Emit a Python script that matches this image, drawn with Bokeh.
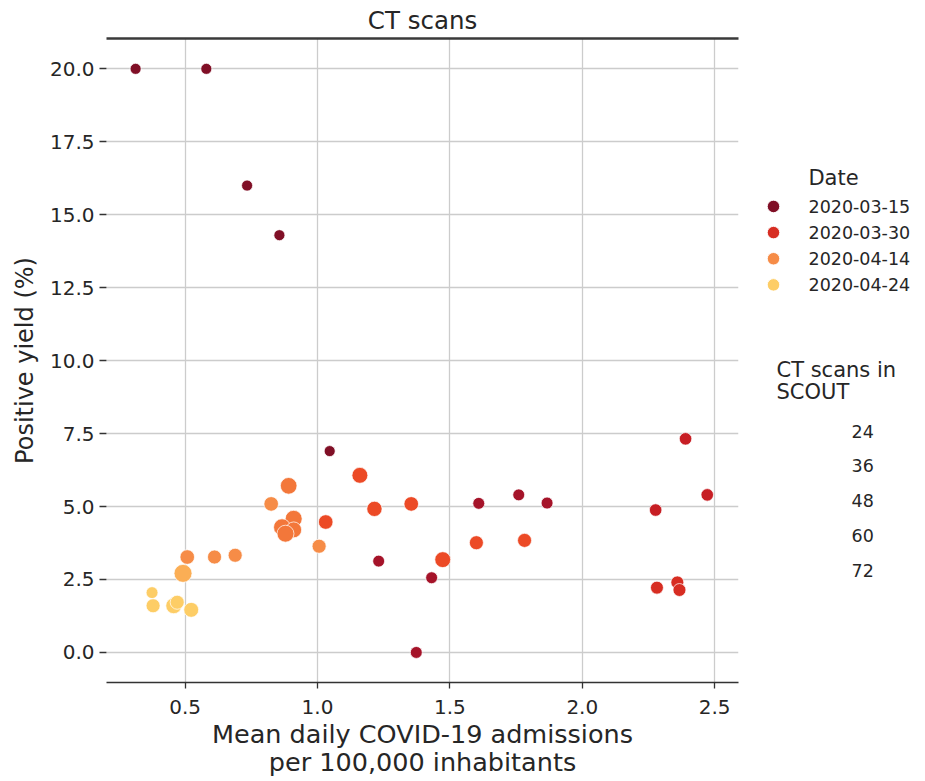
import math
from bokeh.plotting import figure
from bokeh.models import (ColumnDataSource, FixedTicker, NumeralTickFormatter, LinearAxis, Range1d)
from bokeh.transform import factor_cmap
from bokeh.core.properties import value
from bokeh.layouts import row
from bokeh.embed import file_html
from bokeh.resources import INLINE

# ---------------- data ----------------
dates = (["2020-03-15"] * 5 + ["2020-03-20"] * 6 + ["2020-03-25"] * 3 + ["2020-03-30"] * 3 +
         ["2020-04-04"] * 7 + ["2020-04-09"] * 5 + ["2020-04-14"] * 5 + ["2020-04-19"] * 1 +
         ["2020-04-24"] * 5)
admissions = [0.313, 0.580, 0.734, 0.856, 1.046,
              1.231, 1.373, 1.431, 1.609, 1.760, 1.867,
              2.277, 2.390, 2.472,
              2.282, 2.359, 2.367,
              1.160, 1.215, 1.354, 1.031, 1.473, 1.600, 1.782,
              0.891, 0.910, 0.866, 0.910, 0.879,
              0.825, 1.006, 0.611, 0.689, 0.508,
              0.492,
              0.375, 0.379, 0.457, 0.470, 0.523]
yield_pct = [20.0, 20.0, 16.0, 14.3, 6.90,
             3.13, 0.0, 2.56, 5.11, 5.40, 5.12,
             4.88, 7.32, 5.40,
             2.22, 2.40, 2.14,
             6.07, 4.92, 5.09, 4.47, 3.18, 3.76, 3.84,
             5.71, 4.58, 4.29, 4.20, 4.07,
             5.09, 3.64, 3.27, 3.33, 3.27,
             2.71,
             2.05, 1.60, 1.60, 1.72, 1.46]
scans = [24, 24, 24, 24, 24,
         28, 28, 28, 28, 28, 28,
         31, 31, 31,
         33, 33, 33,
         50, 46, 42, 42, 50, 39, 39,
         55, 57, 57, 50, 57,
         42, 39, 39, 39, 42,
         64,
         28, 39, 50, 39, 44]

date_levels = ["2020-03-15", "2020-03-20", "2020-03-25", "2020-03-30", "2020-04-04",
               "2020-04-09", "2020-04-14", "2020-04-19", "2020-04-24"]
date_colors = ["#800f26", "#a51329", "#c71e24", "#d72d22", "#ec4a26",
               "#f3773a", "#f68c47", "#fbae55", "#fdcd66"]
legend_dates = ["2020-03-15", "2020-03-30", "2020-04-14", "2020-04-24"]
size_levels = [24, 36, 48, 60, 72]
x_ticks = [0.5, 1.0, 1.5, 2.0, 2.5]
y_ticks = [0.0, 2.5, 5.0, 7.5, 10.0, 12.5, 15.0, 17.5, 20.0]

FONT = "DejaVu Sans"
TXT = "#262626"

marker_size = [2.25 * math.sqrt(s) for s in scans]
src = ColumnDataSource(dict(x=admissions, y=yield_pct, date=dates, scans=scans, size=marker_size))

WP, H = 740, 780
FRAME_TOP, FRAME_BOTTOM = 38, 686
p = figure(width=WP, height=H, output_backend="svg", toolbar_location=None,
           x_range=Range1d(0.203, 2.59), y_range=Range1d(-1.03, 21.04),
           min_border_left=106, min_border_right=2, min_border_top=FRAME_TOP,
           min_border_bottom=H - FRAME_BOTTOM)
p.outline_line_color = None
p.background_fill_color = "white"

p.title.text = "CT scans"
p.title.align = "center"
p.title.text_font = FONT
p.title.text_font_size = "24.5px"
p.title.text_font_style = "normal"
p.title.text_color = TXT
p.title.standoff = 7
p.title.offset = 0

xax = p.below[0]
yax = p.left[0]
for ax in (xax, yax):
    ax.major_label_text_font = FONT
    ax.major_label_text_font_size = "20px"
    ax.major_label_text_color = TXT
    ax.axis_label_text_font = FONT
    ax.axis_label_text_font_style = "normal"
    ax.axis_label_text_color = TXT
    ax.minor_tick_line_color = None
    ax.major_tick_line_color = "#333333"
    ax.major_tick_line_width = 1.3
    ax.major_tick_in = 0
    ax.major_tick_out = 6
    ax.formatter = NumeralTickFormatter(format="0.0")

xax.ticker = FixedTicker(ticks=x_ticks)
yax.ticker = FixedTicker(ticks=y_ticks)
xax.axis_line_color = "#333333"
xax.axis_line_width = 1.6
yax.axis_line_color = None
yax.major_tick_out = 7
xax.axis_label = "Mean daily COVID-19 admissions\nper 100,000 inhabitants"
yax.axis_label = "Positive yield (%)"
xax.axis_label_text_font_size = "25.5px"
xax.axis_label_text_line_height = 0.95
yax.axis_label_text_font_size = "24px"
xax.major_label_standoff = 11
yax.major_label_standoff = 5
xax.axis_label_standoff = 2
yax.axis_label_standoff = 8

# top spine
top = LinearAxis(ticker=FixedTicker(ticks=[]), axis_line_width=2.4, axis_line_color="#3a3a3a",
                 major_tick_line_color=None, minor_tick_line_color=None,
                 major_label_text_font_size="0px")
p.add_layout(top, "above")

p.xgrid.grid_line_color = "#cccccc"
p.ygrid.grid_line_color = "#cccccc"
p.xgrid.grid_line_width = 1.3
p.ygrid.grid_line_width = 1.3

p.scatter(x="x", y="y", size="size", source=src, marker="circle",
          fill_color=factor_cmap("date", palette=date_colors, factors=date_levels),
          line_color="white", line_width=0.9, line_alpha=0.8)

# ---------------- legend panel (separate figure, page-pixel coordinates) ----------------
WQ = 183
q = figure(width=WQ, height=H, output_backend="svg", toolbar_location=None,
           x_range=Range1d(WP, WP + WQ), y_range=Range1d(FRAME_BOTTOM, FRAME_TOP),
           x_axis_type=None, y_axis_type=None,
           min_border_left=0, min_border_right=0, min_border_top=FRAME_TOP,
           min_border_bottom=H - FRAME_BOTTOM)
q.outline_line_color = None
q.background_fill_color = "white"

date_row_y = [207 + 26.3 * i for i in range(len(legend_dates))]
size_row_y = [433 + 35 * i for i in range(len(size_levels))]

q.text(x=[833], y=[178], text=["Date"], text_font=value(FONT), text_font_size=value("21px"),
       text_color=TXT, text_align="center", text_baseline="middle")
q.scatter(x=[773] * len(legend_dates), y=date_row_y, marker="circle", size=12.5,
          fill_color=[date_colors[date_levels.index(d)] for d in legend_dates],
          line_color="white", line_width=0.9)
q.text(x=[808] * len(legend_dates), y=date_row_y, text=legend_dates, text_font=value(FONT),
       text_font_size=value("17.5px"), text_color=TXT, text_align="left", text_baseline="middle")

q.text(x=[776, 776], y=[372, 394], text=["CT scans in", "SCOUT"], text_font=value(FONT),
       text_font_size=value("21px"), text_color=TXT, text_align="left", text_baseline="middle")
q.text(x=[851] * len(size_levels), y=size_row_y, text=[str(s) for s in size_levels],
       text_font=value(FONT), text_font_size=value("17.5px"), text_color=TXT,
       text_align="left", text_baseline="middle")

layout = row(p, q)
open("out.html", "w").write(file_html(layout, INLINE))
